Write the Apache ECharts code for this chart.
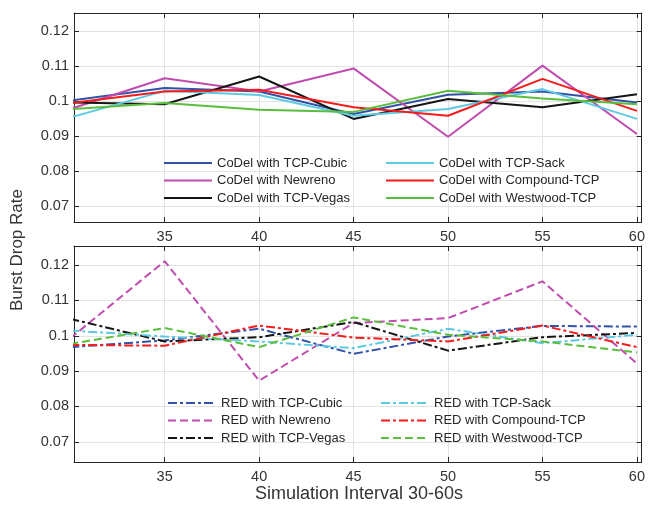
<!DOCTYPE html>
<html>
<head>
<meta charset="utf-8">
<script src="https://cdn.jsdelivr.net/npm/echarts@6/dist/echarts.min.js"></script>
<style>
  html, body { margin: 0; padding: 0; background: #fff; }
  #chart { width: 648px; height: 505px; }
</style>
</head>
<body>
<div id="chart"></div>
<script>
// Simulation intervals (s)
const intervals = [30, 35, 40, 45, 50, 55, 60];
const xTicks = [35, 40, 45, 50, 55, 60];
const yTicks = [0.07, 0.08, 0.09, 0.1, 0.11, 0.12];

// CoDel burst drop rates
const codelCubic    = [0.1001, 0.1037, 0.1027, 0.0963, 0.1018, 0.1027, 0.0996];
const codelNewreno  = [0.0977, 0.1065, 0.1027, 0.1093, 0.0898, 0.1101, 0.0906];
const codelVegas    = [0.0996, 0.0991, 0.1070, 0.0949, 0.1006, 0.0982, 0.1019];
const codelSack     = [0.0953, 0.1029, 0.1017, 0.0958, 0.0977, 0.1034, 0.0949];
const codelCompound = [0.0994, 0.1027, 0.1032, 0.0982, 0.0958, 0.1063, 0.0972];
const codelWestwood = [0.0977, 0.0994, 0.0975, 0.0969, 0.1029, 0.1007, 0.0991];

// RED burst drop rates
const redCubic    = [0.0968, 0.0987, 0.1020, 0.0949, 0.0998, 0.1028, 0.1026];
const redNewreno  = [0.0993, 0.1211, 0.0873, 0.1036, 0.1050, 0.1154, 0.0922];
const redVegas    = [0.1048, 0.0984, 0.0996, 0.1039, 0.0958, 0.0996, 0.1008];
const redSack     = [0.1015, 0.0998, 0.0984, 0.0965, 0.1020, 0.0979, 0.1003];
const redCompound = [0.0974, 0.0972, 0.1029, 0.0995, 0.0984, 0.1029, 0.0968];
const redWestwood = [0.0977, 0.1022, 0.0968, 0.1052, 0.1003, 0.0984, 0.0953];

const variants = ['TCP-Cubic', 'Newreno', 'TCP-Vegas', 'TCP-Sack', 'Compound-TCP', 'Westwood-TCP'];
const colors = ['#3152a6', '#c04cae', '#151515', '#5ccae2', '#f41c1c', '#5bbd3d'];
const codelData = [codelCubic, codelNewreno, codelVegas, codelSack, codelCompound, codelWestwood];
const redData = [redCubic, redNewreno, redVegas, redSack, redCompound, redWestwood];

const DASH = [8, 4];
const DASHDOT = [9, 3, 3, 3];
const redDash = [DASHDOT, DASH, DASHDOT, DASHDOT, DASHDOT, DASH];

const FONT = 'Liberation Sans, Arial, Helvetica, sans-serif';
const AXIS_COLOR = '#262626';
const GRID_COLOR = '#e3e3e3';

function pair(xs, ys) { return xs.map((x, i) => [x, ys[i]]); }
const fmtY = v => String(parseFloat(v.toFixed(2)));

function xAxes(gridIndex) {
  return [
    {
      type: 'value', gridIndex, position: 'bottom', min: 30.2, max: 60.25,
      axisLine: { show: true, lineStyle: { color: AXIS_COLOR, width: 1 } },
      axisTick: { show: true, inside: true, length: 5, customValues: xTicks, lineStyle: { color: AXIS_COLOR } },
      axisLabel: { show: true, customValues: xTicks, margin: 7, color: '#333', fontSize: 14.5, fontFamily: FONT },
      splitLine: { show: true, lineStyle: { color: GRID_COLOR, width: 1 } }
    },
    {
      type: 'value', gridIndex, position: 'top', min: 30.2, max: 60.25,
      axisLine: { show: true, lineStyle: { color: AXIS_COLOR, width: 1 } },
      axisTick: { show: true, inside: true, length: 5, customValues: xTicks, lineStyle: { color: AXIS_COLOR } },
      axisLabel: { show: false },
      splitLine: { show: false }
    }
  ];
}

function yAxes(gridIndex, min, max) {
  return [
    {
      type: 'value', gridIndex, position: 'left', min, max,
      axisLine: { show: true, lineStyle: { color: AXIS_COLOR, width: 1 } },
      axisTick: { show: true, inside: true, length: 5, customValues: yTicks, lineStyle: { color: AXIS_COLOR } },
      axisLabel: { show: true, customValues: yTicks, margin: 5, color: '#333', fontSize: 14.5, fontFamily: FONT, formatter: fmtY },
      splitLine: { show: true, lineStyle: { color: GRID_COLOR, width: 1 } }
    },
    {
      type: 'value', gridIndex, position: 'right', min, max,
      axisLine: { show: true, lineStyle: { color: AXIS_COLOR, width: 1 } },
      axisTick: { show: true, inside: true, length: 5, customValues: yTicks, lineStyle: { color: AXIS_COLOR } },
      axisLabel: { show: false },
      splitLine: { show: false }
    }
  ];
}

const series = [];
variants.forEach((v, i) => {
  series.push({
    name: 'CoDel with ' + v, type: 'line', xAxisIndex: 0, yAxisIndex: 0,
    data: pair(intervals, codelData[i]), symbol: 'none', clip: true,
    color: colors[i], lineStyle: { color: colors[i], width: 2 }
  });
});
variants.forEach((v, i) => {
  series.push({
    name: 'RED with ' + v, type: 'line', xAxisIndex: 2, yAxisIndex: 2,
    data: pair(intervals, redData[i]), symbol: 'none', clip: true,
    color: colors[i], lineStyle: { color: colors[i], width: 2, type: redDash[i] }
  });
});

// Legend column: plain line keys, no point markers
function legendCol(names, left, top) {
  return {
    data: names, left, top, orient: 'vertical', padding: 0,
    itemWidth: 48, itemHeight: 14, itemGap: 3.5, selectedMode: false,
    itemStyle: { opacity: 0, borderWidth: 0 },
    textStyle: { fontSize: 13, fontFamily: FONT, color: '#262626', lineHeight: 14 }
  };
}

const option = {
  animation: false,
  backgroundColor: '#fff',
  grid: [
    { left: 74, top: 13, right: 4, height: 209, show: false },
    { left: 74, top: 246, right: 4, height: 216, show: false }
  ],
  xAxis: [...xAxes(0), ...xAxes(1)],
  yAxis: [...yAxes(0, 0.0655, 0.1251), ...yAxes(1, 0.0643, 0.1254)],
  legend: [
    legendCol(['CoDel with TCP-Cubic', 'CoDel with Newreno', 'CoDel with TCP-Vegas'], 163, 156),
    legendCol(['CoDel with TCP-Sack', 'CoDel with Compound-TCP', 'CoDel with Westwood-TCP'], 385, 156),
    legendCol(['RED with TCP-Cubic', 'RED with Newreno', 'RED with TCP-Vegas'], 167, 396),
    legendCol(['RED with TCP-Sack', 'RED with Compound-TCP', 'RED with Westwood-TCP'], 380, 396)
  ],
  graphic: [
    {
      type: 'text', x: 17.5, y: 250, rotation: Math.PI / 2,
      style: { text: 'Burst Drop Rate', fontSize: 17, fontFamily: FONT, fill: '#333', align: 'center', verticalAlign: 'middle' }
    },
    {
      type: 'text', x: 359, y: 494,
      style: { text: 'Simulation Interval 30-60s', fontSize: 18, fontFamily: FONT, fill: '#333', align: 'center', verticalAlign: 'middle' }
    }
  ],
  series
};

const chart = echarts.init(document.getElementById('chart'), null, { renderer: 'canvas' });
chart.setOption(option);
</script>
</body>
</html>
